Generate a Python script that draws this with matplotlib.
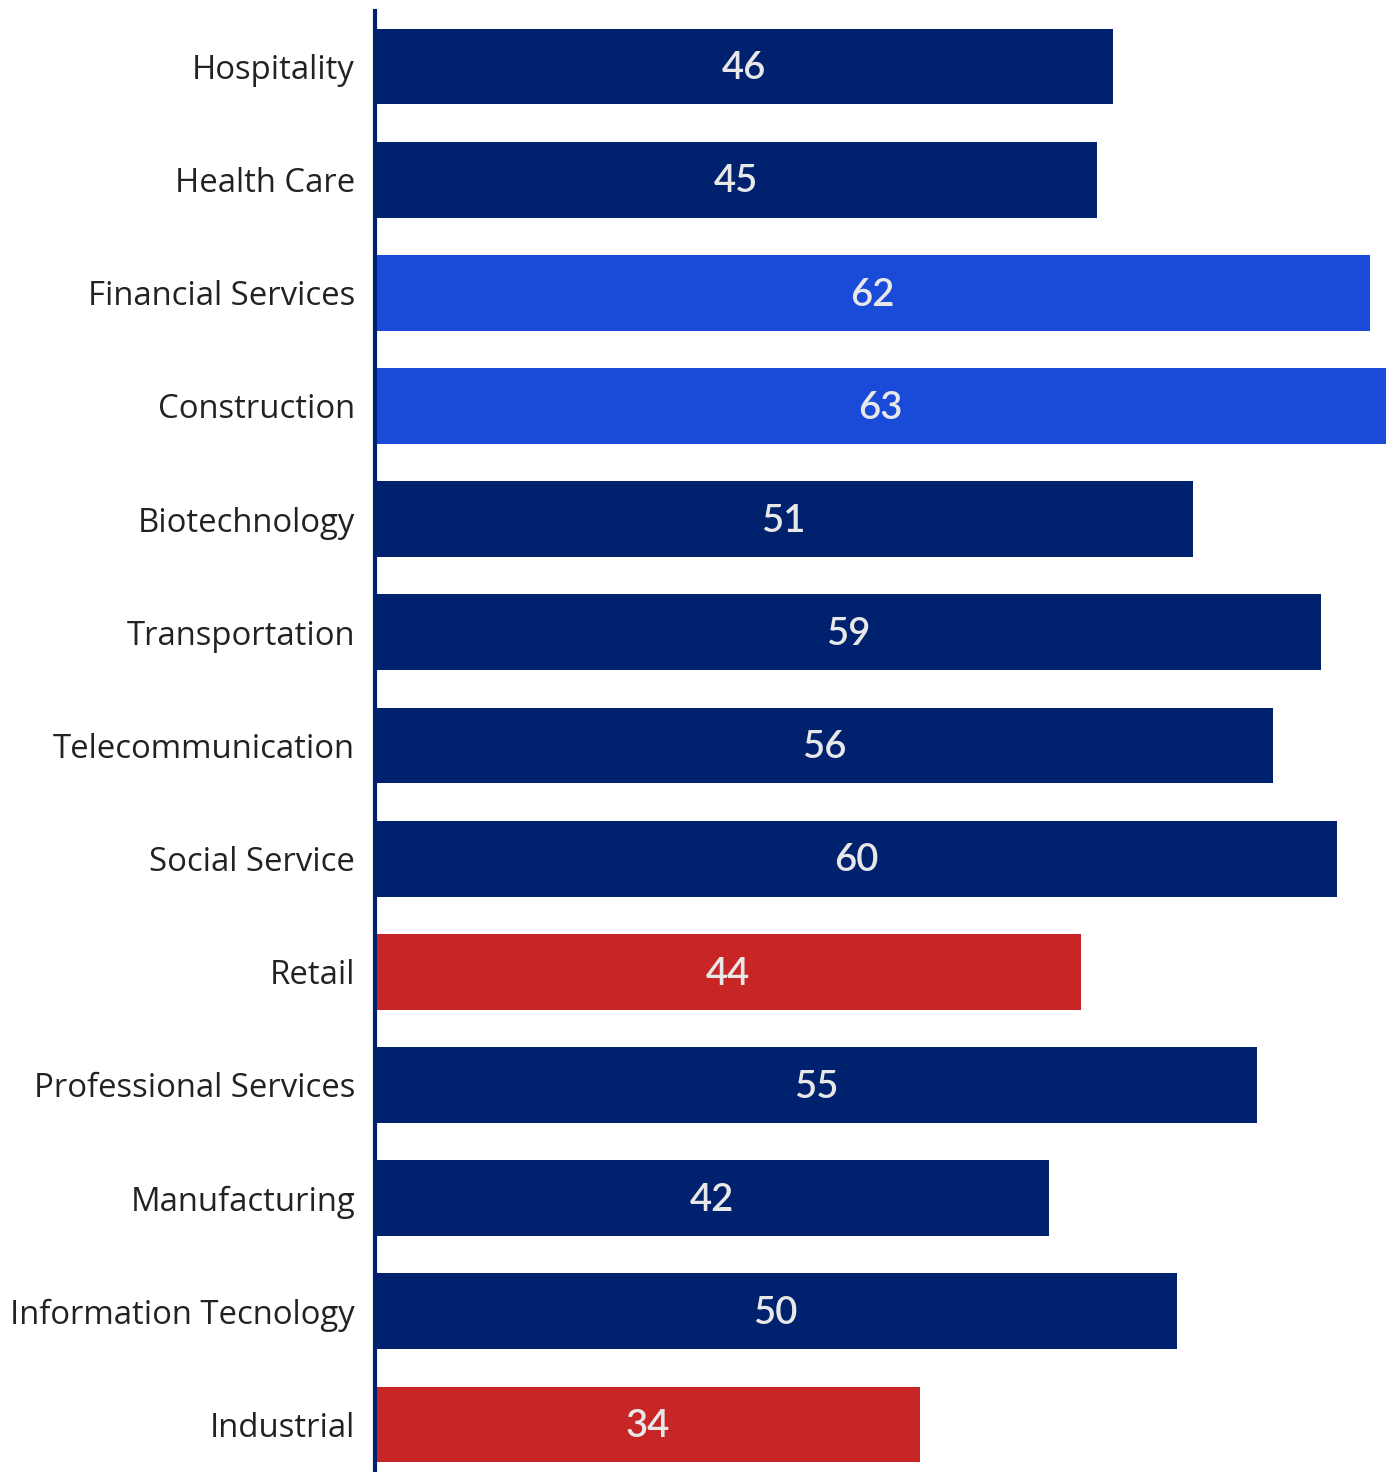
import matplotlib.pyplot as plt

plt.rcParams['font.family'] = ['Lato', 'DejaVu Sans']

industries = ["Hospitality", "Health Care", "Financial Services", "Construction",
              "Biotechnology", "Transportation", "Telecommunication", "Social Service",
              "Retail", "Professional Services", "Manufacturing",
              "Information Tecnology", "Industrial"]
scores = [46, 45, 62, 63, 51, 59, 56, 60, 44, 55, 42, 50, 34]
groups = ["mid", "mid", "high", "high", "mid", "mid", "mid", "mid",
          "low", "mid", "mid", "mid", "low"]

palette = {"high": "#1a4bd8", "mid": "#00216e", "low": "#c82626"}
colors = [palette[g] for g in groups]

fig = plt.figure(figsize=(13.92, 14.72), dpi=100)
ax = fig.add_axes([374.5 / 1392, 0, 1 - 374.5 / 1392, 1 - 11 / 1472])

pos = range(len(industries))
bars = ax.barh(pos, scores, height=0.67, color=colors)

for bar, val in zip(bars, scores):
    ax.text(val / 2, bar.get_y() + bar.get_height() / 2 + 0.02, str(val),
            ha="center", va="center", color="#e8e8e8", fontsize=27.5,
            fontweight="semibold")

ax.set_yticks(list(pos))
ax.set_yticklabels(industries, fontsize=23.7, color="#222222",
                   family=['Open Sans', 'DejaVu Sans'])
ax.tick_params(axis="y", length=0, pad=14)
ax.set_xticks([])
ax.set_xlim(0, 63.4)
ax.set_ylim(12.42, -0.49)

for side in ["top", "right", "bottom"]:
    ax.spines[side].set_visible(False)
ax.spines["left"].set_color("#00216e")
ax.spines["left"].set_linewidth(3)

fig.savefig("out.png", dpi=100)
